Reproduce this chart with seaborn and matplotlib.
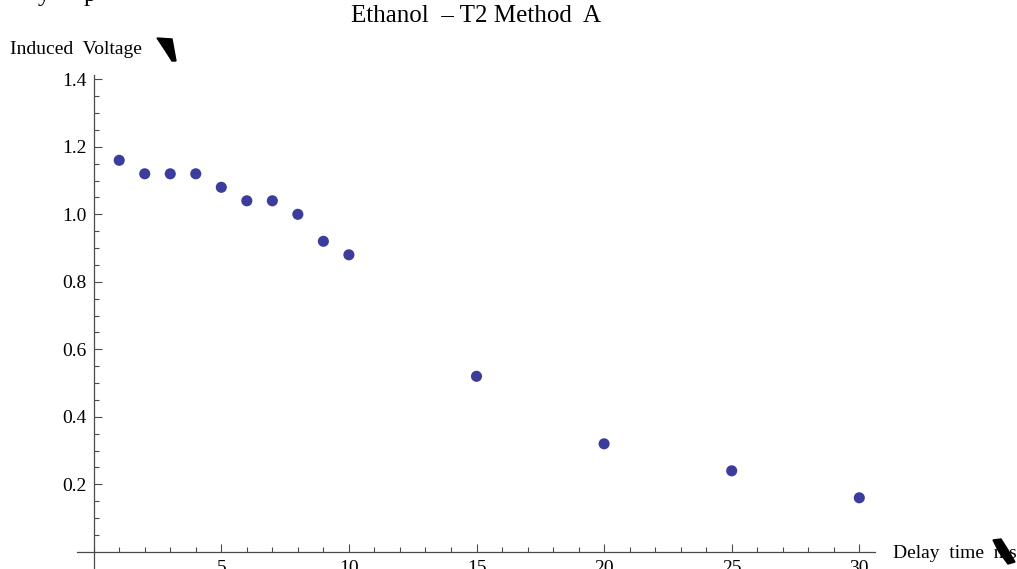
import pandas as pd
import matplotlib
matplotlib.use("Agg")
import matplotlib.pyplot as plt
from matplotlib.patches import Polygon
from matplotlib.ticker import FixedLocator
import seaborn as sns

# data
delay_time = [1, 2, 3, 4, 5, 6, 7, 8, 9, 10, 15, 20, 25, 30]
induced_voltage = [1.16, 1.12, 1.12, 1.12, 1.08, 1.04, 1.04, 1.00, 0.92, 0.88,
                   0.52, 0.32, 0.24, 0.16]
x_major = [5, 10, 15, 20, 25, 30]
y_major = [0.2, 0.4, 0.6, 0.8, 1.0, 1.2, 1.4]
y_labels = ["0.2", "0.4", "0.6", "0.8", "1.0", "1.2", "1.4"]

W, H = 1017, 569
sns.set_style("white")
plt.rcParams['font.family'] = ['Liberation Serif', 'DejaVu Serif']
plt.rcParams['text.color'] = 'black'
plt.rcParams['xtick.color'] = 'black'
plt.rcParams['ytick.color'] = 'black'

df = pd.DataFrame({"t": delay_time, "v": induced_voltage})

fig = plt.figure(figsize=(W / 100, H / 100), dpi=100)
ax = fig.add_axes([0, 0, 1, 1])
ax.set_facecolor("white")

sns.scatterplot(data=df, x="t", y="v", ax=ax, color="#3c3c9c", s=64,
                edgecolor="none", zorder=5)

# pixel mapping: x=0 at 93.7px, 25.52 px/unit ; y=0 at 551.8px, 337.5 px/unit
ax.set_xlim(-93.7 / 25.52, (W - 93.7) / 25.52)
ax.set_ylim((551.8 - H) / 337.5, 551.8 / 337.5)

axis_col = "#4a4a4a"
for side in ["top", "right"]:
    ax.spines[side].set_visible(False)
ax.spines["bottom"].set_position(("data", 0))
ax.spines["left"].set_position(("data", 0))
ax.spines["bottom"].set_bounds(-0.65, 30.6)
ax.spines["left"].set_bounds((551.8 - H) / 337.5, 1.413)
for side in ["bottom", "left"]:
    ax.spines[side].set_color(axis_col)
    ax.spines[side].set_linewidth(0.9)

ax.xaxis.set_major_locator(FixedLocator(x_major))
ax.xaxis.set_minor_locator(FixedLocator(range(0, 31)))
ax.set_xticklabels([str(v) for v in x_major])
ax.yaxis.set_major_locator(FixedLocator(y_major))
ax.yaxis.set_minor_locator(FixedLocator([i * 0.05 for i in range(1, 29)]))
ax.set_yticklabels(y_labels)

ax.tick_params(which="both", bottom=True, left=True, top=False, right=False,
               direction="in", width=0.8, color=axis_col, labelcolor="black")
ax.tick_params(axis="x", which="major", length=6, labelsize=14, pad=6)
ax.tick_params(axis="x", which="minor", length=3.5)
ax.tick_params(axis="y", which="major", length=6, labelsize=14, pad=5)
ax.tick_params(axis="y", which="minor", length=3.5)
ax.set_xlabel("")
ax.set_ylabel("")


def px(x, y):
    return (x / W, 1 - y / H)


fig.text(*px(476, 22), "Ethanol  \u2013 T2 Method  A", ha="center", va="baseline",
         fontsize=18)
fig.text(*px(10, 54), "Induced  Voltage", ha="left", va="baseline", fontsize=14)
fig.text(*px(893, 558), "Delay  time  ms", ha="left", va="baseline", fontsize=14)
# cut-off line above the chart
fig.text(*px(38, 1), "y", ha="left", va="baseline", fontsize=18)
fig.text(*px(84, 1), "p", ha="left", va="baseline", fontsize=18)

# broken glyphs next to the axis labels
blob1 = [(157, 38), (172, 39), (174, 50), (176, 61), (172, 61), (165, 50)]
blob2 = [(993, 540), (1001, 539), (1008, 550), (1015, 562), (1008, 564), (999, 552)]
for pts in (blob1, blob2):
    fig.patches.append(Polygon([px(a, b) for a, b in pts], closed=True,
                               transform=fig.transFigure, color="black"))

fig.savefig("out.png", dpi=100)
